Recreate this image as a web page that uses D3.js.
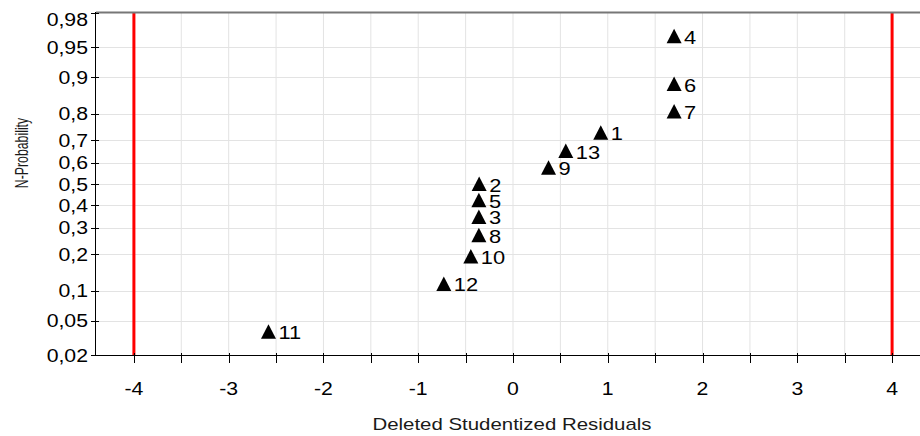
<!DOCTYPE html>
<html>
<head>
<meta charset="utf-8">
<script src="https://cdn.jsdelivr.net/npm/d3@7"></script>
<style>
  body { margin: 0; background: #fff; }
  svg { display: block; font-family: "Liberation Sans", Arial, sans-serif; }
</style>
</head>
<body>
<script>
const obsLabels = ["11", "12", "10", "8", "3", "5", "2", "9", "13", "1", "7", "6", "4"];
const residuals = [-2.58, -0.73, -0.445, -0.36, -0.36, -0.36, -0.357, 0.375, 0.557, 0.926, 1.70, 1.70, 1.70];
const probs = [0.038, 0.115, 0.192, 0.269, 0.346, 0.423, 0.5, 0.577, 0.654, 0.731, 0.808, 0.885, 0.962];

const yTicks = [0.02, 0.05, 0.1, 0.2, 0.3, 0.4, 0.5, 0.6, 0.7, 0.8, 0.9, 0.95, 0.98];
const xTicks = [-4, -3, -2, -1, 0, 1, 2, 3, 4];
const xMinor = [-4, -3.5, -3, -2.5, -2, -1.5, -1, -0.5, 0, 0.5, 1, 1.5, 2, 2.5, 3, 3.5, 4];
const limits = [-4, 4];

const w = 920, h = 436;
const pLeft = 96, pTop = 13, pBottom = 355, pRight = 930;

// inverse normal cdf (Acklam) for the probability axis
function probit(p) {
  const a = [-39.69683028665376, 220.9460984245205, -275.9285104469687, 138.3577518672690, -30.66479806614716, 2.506628277459239];
  const b = [-54.47609879822406, 161.5858368580409, -155.6989798598866, 66.80131188771972, -13.28068155288572];
  const c = [-0.007784894002430293, -0.3223964580411365, -2.400758277161838, -2.549732539343734, 4.374664141464968, 2.938163982698783];
  const d = [0.007784695709041462, 0.3224671290700398, 2.445134137142996, 3.754408661907416];
  const pl = 0.02425;
  let q, r;
  if (p < pl) {
    q = Math.sqrt(-2 * Math.log(p));
    return (((((c[0]*q+c[1])*q+c[2])*q+c[3])*q+c[4])*q+c[5]) / ((((d[0]*q+d[1])*q+d[2])*q+d[3])*q+1);
  } else if (p <= 1 - pl) {
    q = p - 0.5; r = q*q;
    return (((((a[0]*r+a[1])*r+a[2])*r+a[3])*r+a[4])*r+a[5])*q / (((((b[0]*r+b[1])*r+b[2])*r+b[3])*r+b[4])*r+1);
  } else {
    q = Math.sqrt(-2 * Math.log(1 - p));
    return -(((((c[0]*q+c[1])*q+c[2])*q+c[3])*q+c[4])*q+c[5]) / ((((d[0]*q+d[1])*q+d[2])*q+d[3])*q+1);
  }
}

const x = d3.scaleLinear().domain([-4.4, 4.4]).range([pLeft, pRight]);
const z = d3.scaleLinear().domain([probit(0.02), probit(0.98)]).range([pBottom, pTop]);
const y = p => z(probit(p));

const svg = d3.select("body").append("svg").attr("width", w).attr("height", h);

// text in the picture is drawn wide
function widen(sel, k) {
  sel.each(function() {
    const len = this.getComputedTextLength();
    d3.select(this).attr("textLength", len * k).attr("lengthAdjust", "spacingAndGlyphs");
  });
}

// grid
svg.append("g").selectAll("line").data(xMinor).enter().append("line")
  .attr("x1", d => x(d)).attr("x2", d => x(d))
  .attr("y1", pTop).attr("y2", pBottom)
  .attr("stroke", "#e3e3e3").attr("stroke-width", 1);
svg.append("g").selectAll("line").data(yTicks.slice(1, -1)).enter().append("line")
  .attr("x1", pLeft).attr("x2", w)
  .attr("y1", d => Math.round(y(d)) + 0.5).attr("y2", d => Math.round(y(d)) + 0.5)
  .attr("stroke", "#e3e3e3").attr("stroke-width", 1);

// red limit lines
svg.append("g").selectAll("line").data(limits).enter().append("line")
  .attr("x1", d => x(d)).attr("x2", d => x(d))
  .attr("y1", pTop).attr("y2", pBottom)
  .attr("stroke", "#ff0000").attr("stroke-width", 3);

// top border
svg.append("line").attr("x1", pLeft).attr("x2", w).attr("y1", pTop - 0.5).attr("y2", pTop - 0.5)
  .attr("stroke", "#777").attr("stroke-width", 2);

// axes
const yAxis = svg.append("g");
yAxis.append("line").attr("x1", pLeft - 0.5).attr("x2", pLeft - 0.5).attr("y1", pTop - 1).attr("y2", pBottom + 1)
  .attr("stroke", "#000");
yAxis.selectAll(".tk").data(yTicks).enter().append("line")
  .attr("x1", pLeft - 5).attr("x2", pLeft + 3)
  .attr("y1", d => Math.round(y(d)) + 0.5).attr("y2", d => Math.round(y(d)) + 0.5)
  .attr("stroke", "#000");
yAxis.selectAll("text").data(yTicks).enter().append("text")
  .attr("x", 88).attr("y", d => Math.max(y(d) + 6.5, pTop + 12.5))
  .attr("text-anchor", "end").attr("font-size", 18).attr("fill", "#000")
  .text(d => String(d).replace(".", ","))
  .call(widen, 1.18);

const xAxis = svg.append("g");
xAxis.append("line").attr("x1", pLeft - 1).attr("x2", w).attr("y1", pBottom + 0.5).attr("y2", pBottom + 0.5)
  .attr("stroke", "#000");
xAxis.selectAll(".tk").data(xMinor).enter().append("line")
  .attr("x1", d => Math.round(x(d)) + 0.5).attr("x2", d => Math.round(x(d)) + 0.5)
  .attr("y1", pBottom - 2).attr("y2", pBottom + 8)
  .attr("stroke", "#000");
xAxis.selectAll("text").data(xTicks).enter().append("text")
  .attr("x", d => x(d)).attr("y", 395)
  .attr("text-anchor", "middle").attr("font-size", 18).attr("fill", "#000")
  .text(d => d)
  .call(widen, 1.18);

// axis titles
svg.append("text").attr("x", 512).attr("y", 430)
  .attr("text-anchor", "middle").attr("font-size", 17).attr("fill", "#1a1a1a")
  .text("Deleted Studentized Residuals")
  .call(widen, 1.2);
svg.append("text")
  .attr("transform", "translate(28,153) rotate(-90) scale(0.82,1.2)")
  .attr("text-anchor", "middle").attr("font-size", 15).attr("fill", "#1a1a1a")
  .text("N-Probability");

// points
const pts = svg.append("g").selectAll("g").data(obsLabels).enter().append("g")
  .attr("transform", (d, i) => "translate(" + x(residuals[i]) + "," + y(probs[i]) + ")");
pts.append("path")
  .attr("d", "M0,-7.5L7.5,7L-7.5,7Z")
  .attr("fill", "#000");
pts.append("text")
  .attr("x", 10).attr("y", 7.5)
  .attr("font-size", 19).attr("fill", "#000")
  .text(d => d)
  .call(widen, 1.15);
</script>
</body>
</html>
